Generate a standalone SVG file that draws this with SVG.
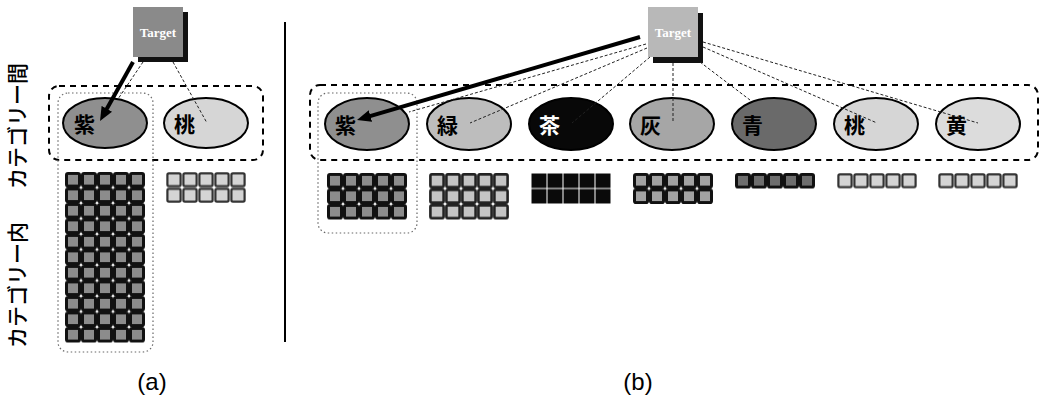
<svg xmlns="http://www.w3.org/2000/svg" width="1048" height="400" viewBox="0 0 1048 400">
<style>
.lbl{font-family:"Noto Sans CJK JP","Noto Sans",sans-serif;font-size:21px;font-weight:bold;fill:#000}
.vt{font-family:"Noto Sans CJK JP","Noto Sans",sans-serif;font-size:21px;font-weight:500;fill:#000}
.cap{font-family:"Liberation Sans",Arial,sans-serif;font-size:24px;fill:#000;text-anchor:middle}
.tgt{font-family:"Liberation Serif","Times New Roman",serif;font-size:13px;font-weight:bold;fill:#fff;text-anchor:middle}
.ell{stroke:#000;stroke-width:2}
.grp{fill:none;stroke:#000;stroke-width:2;stroke-dasharray:6 5}
.col{fill:none;stroke:#666;stroke-width:1.2;stroke-dasharray:1.5 2.5}
.thin{fill:none;stroke:#222;stroke-width:1;stroke-dasharray:3 2}
.thick{fill:none;stroke:#000;stroke-width:4}
</style>
<defs>
<marker id="ah" markerUnits="userSpaceOnUse" markerWidth="14" markerHeight="12" refX="4" refY="6" orient="auto">
<path d="M0,0 L14,6 L0,12 z" fill="#000"/>
</marker>
<pattern id="cPurple" patternUnits="userSpaceOnUse" width="16" height="15.5">
<rect x="1.5" y="1.5" width="13" height="12.5" rx="1.5" fill="#8c8c8c" stroke="#111" stroke-width="3"/>
</pattern>
<pattern id="cGreen" patternUnits="userSpaceOnUse" width="16" height="15.5">
<rect x="1.4" y="1.4" width="13.2" height="12.7" rx="1.5" fill="#c4c4c4" stroke="#222" stroke-width="2.6"/>
</pattern>
<pattern id="cBrown" patternUnits="userSpaceOnUse" width="16" height="15.5">
<rect x="0.5" y="0.5" width="15" height="14.5" fill="#0a0a0a"/>
</pattern>
<pattern id="cGray" patternUnits="userSpaceOnUse" width="16" height="15.5">
<rect x="1.5" y="1.5" width="13" height="12.5" rx="1.5" fill="#a2a2a2" stroke="#111" stroke-width="3"/>
</pattern>
<pattern id="cBlue" patternUnits="userSpaceOnUse" width="16" height="15.5">
<rect x="1.5" y="1.5" width="13" height="12.5" rx="1.5" fill="#6e6e6e" stroke="#111" stroke-width="3"/>
</pattern>
<pattern id="cLight" patternUnits="userSpaceOnUse" width="16" height="15.5">
<rect x="1.4" y="1.4" width="13.2" height="12.7" rx="1.5" fill="#d4d4d4" stroke="#333" stroke-width="2.2"/>
</pattern>
</defs>
<rect width="1048" height="400" fill="#fff"/>

<!-- side labels -->
<text class="vt" transform="translate(25,126) rotate(-90)" text-anchor="middle">カテゴリー間</text>
<text class="vt" transform="translate(25,285) rotate(-90)" text-anchor="middle">カテゴリー内</text>

<!-- separator -->
<line x1="285" y1="22" x2="285" y2="342" stroke="#000" stroke-width="2"/>

<!-- ===== (a) ===== -->
<rect class="grp" x="49" y="86" width="214" height="74" rx="10"/>
<rect class="col" x="58" y="93" width="95" height="259" rx="10"/>

<g id="a-target">
<rect x="138" y="12" width="50" height="50" fill="#111"/>
<rect x="133" y="7" width="50" height="50" fill="#8a8a8a"/>
<text class="tgt" x="158" y="37">Target</text>
</g>
<g id="a-purple">
<ellipse class="ell" cx="105" cy="123" rx="42" ry="25" fill="#8f8f8f"/>
<text class="lbl" x="74" y="132">紫</text>
<g transform="translate(65,172)"><rect width="80" height="170.5" fill="url(#cPurple)"/></g>
</g>
<g id="a-pink">
<ellipse class="ell" cx="206" cy="123" rx="42" ry="25" fill="#d6d6d6"/>
<text class="lbl" x="174" y="132">桃</text>
<g transform="translate(166,172)"><rect width="80" height="31" fill="url(#cLight)"/></g>
</g>

<!-- ===== (b) ===== -->
<rect class="grp" x="310" y="85" width="728" height="75" rx="10"/>
<rect class="col" x="318" y="93" width="99" height="140" rx="10"/>

<g id="b-target">
<rect x="653" y="13" width="50" height="50" fill="#111"/>
<rect x="648" y="7" width="50" height="50" fill="#b8b8b8"/>
<text class="tgt" x="673" y="37">Target</text>
</g>
<g id="b-purple">
<ellipse class="ell" cx="367" cy="124" rx="42" ry="26" fill="#8f8f8f"/>
<text class="lbl" x="335" y="133">紫</text>
<g transform="translate(327,173)"><rect width="80" height="46.5" fill="url(#cPurple)"/></g>
</g>
<g id="b-green">
<ellipse class="ell" cx="469" cy="124" rx="42" ry="26" fill="#bdbdbd"/>
<text class="lbl" x="437" y="133">緑</text>
<g transform="translate(429,173)"><rect width="80" height="46.5" fill="url(#cGreen)"/></g>
</g>
<g id="b-brown">
<ellipse class="ell" cx="571" cy="124" rx="42" ry="26" fill="#080808"/>
<text class="lbl" x="539" y="133" style="fill:#fff">茶</text>
<g transform="translate(531,173)"><rect width="80" height="31" fill="url(#cBrown)"/></g>
</g>
<g id="b-gray">
<ellipse class="ell" cx="672" cy="124" rx="42" ry="26" fill="#a6a6a6"/>
<text class="lbl" x="640" y="133">灰</text>
<g transform="translate(633,173)"><rect width="80" height="31" fill="url(#cGray)"/></g>
</g>
<g id="b-blue">
<ellipse class="ell" cx="774" cy="124" rx="42" ry="26" fill="#6a6a6a"/>
<text class="lbl" x="742" y="133">青</text>
<g transform="translate(735,173)"><rect width="80" height="15.5" fill="url(#cBlue)"/></g>
</g>
<g id="b-pink">
<ellipse class="ell" cx="876" cy="124" rx="42" ry="26" fill="#d6d6d6"/>
<text class="lbl" x="844" y="133">桃</text>
<g transform="translate(837,173)"><rect width="80" height="15.5" fill="url(#cLight)"/></g>
</g>
<g id="b-yellow">
<ellipse class="ell" cx="978" cy="124" rx="42" ry="26" fill="#dcdcdc"/>
<text class="lbl" x="946" y="133">黄</text>
<g transform="translate(938,173)"><rect width="80" height="15.5" fill="url(#cLight)"/></g>
</g>

<!-- connectors -->
<g id="connectors">
<line class="thin" x1="143" y1="62" x2="118" y2="99"/>
<line class="thin" x1="173" y1="62" x2="207" y2="123"/>
<line class="thick" x1="133" y1="62" x2="104.9" y2="112.3" marker-end="url(#ah)"/>

<line class="thin" x1="646" y1="44" x2="409" y2="112"/>
<line class="thin" x1="647" y1="48" x2="470" y2="123"/>
<line class="thin" x1="650" y1="57" x2="572" y2="123"/>
<line class="thin" x1="673" y1="63" x2="673" y2="123"/>
<line class="thin" x1="700" y1="62" x2="750" y2="100"/>
<line class="thin" x1="703" y1="47" x2="877" y2="123"/>
<line class="thin" x1="703" y1="42" x2="978" y2="123"/>
<line class="thick" x1="640" y1="37" x2="366.6" y2="117.2" marker-end="url(#ah)"/>
</g>

<text class="cap" x="152" y="390">(a)</text>
<text class="cap" x="638" y="390">(b)</text>
</svg>
